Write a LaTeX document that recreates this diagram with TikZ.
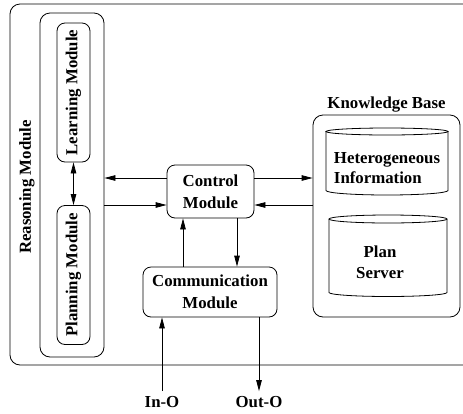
\documentclass[tikz,border=0pt]{standalone}
\usepackage{fontspec}
\setmainfont{Liberation Serif}
\usepackage{tikz}
\usetikzlibrary{positioning, arrows.meta, calc}
\tikzset{
  module/.style={draw, line width=0.8pt, rounded corners=8pt, align=center, font=\fontsize{16.8}{22}\selectfont\bfseries, inner sep=2pt},
  sidemodule/.style={module, rotate=90, minimum width=139, minimum height=33},
  frame/.style={draw, line width=0.8pt, rounded corners=10pt},
  store/.style={align=left, font=\fontsize{16.8}{20.5}\selectfont\bfseries, inner sep=0pt},
  caption/.style={font=\fontsize{16.8}{20}\selectfont\bfseries, inner sep=1pt},
  link/.style={-{Triangle[length=11pt, width=5.5pt]}, line width=0.8pt},
  twolink/.style={{Triangle[length=11pt, width=5.5pt]}-{Triangle[length=11pt, width=5.5pt]}, line width=0.8pt},
}

\begin{document}
\begin{tikzpicture}[x=1pt, y=-1pt]
  \useasboundingbox (0,0) rectangle (463,413);

  % Outer frame, running off the right edge
  \begin{scope}
    \clip (0,0) rectangle (463,413);
    \draw[frame] (10,4) rectangle (480,365);
  \end{scope}

  % Reasoning module with its two sub-modules
  \node[caption, rotate=90] (reasonname) at (27,187) {Reasoning Module};
  \node[frame, minimum width=64, minimum height=344, inner sep=0pt] (reason) at (72,185) {};
  \node[sidemodule] (learn) at (73.5,92.5) {Learning Module};
  \node[sidemodule] (plan) at (73.5,275) {Planning Module};
  \draw[twolink] (learn.west) -- (plan.east);

  % Control and communication
  \node[module, minimum width=87, minimum height=53] (ctrl) at (210.5,191.5) {Control\\Module};
  \node[module, minimum width=134, minimum height=50] (comm) at (210,292) {Communication\\Module};

  % Knowledge base with two stores
  \node[frame, minimum width=147, minimum height=202, inner sep=0pt] (kb) at (386.5,216) {};
  \node[caption, above=1pt of kb] (kbname) {Knowledge Base};

  \node[store] (hetero) at (387,168) {Heterogeneous\\Information};
  \draw[line width=0.8pt] ($(hetero)+(0pt,36.5pt)$) ellipse [x radius=61pt, y radius=3.5pt];
  \draw[line width=0.8pt] ($(hetero)+(-61pt,36.5pt)$) -- ($(hetero)+(-61pt,-22.5pt)$)
    arc [start angle=180, end angle=360, x radius=61pt, y radius=4.5pt]
    -- ($(hetero)+(61pt,36.5pt)$);

  \node[store, align=center] (server) at (380,262) {Plan\\Server};
  \draw[line width=0.8pt] ($(server)+(8pt,43pt)$) ellipse [x radius=59pt, y radius=4pt];
  \draw[line width=0.8pt] ($(server)+(-51pt,43pt)$) -- ($(server)+(-51pt,-30.5pt)$)
    arc [start angle=180, end angle=360, x radius=59pt, y radius=4pt]
    -- ($(server)+(67pt,43pt)$);

  % Horizontal links
  \coordinate (cw1) at ([yshift=13.5pt]ctrl.west);
  \coordinate (cw2) at ([yshift=-13.5pt]ctrl.west);
  \coordinate (ce1) at ([yshift=13.5pt]ctrl.east);
  \coordinate (ce2) at ([yshift=-13.5pt]ctrl.east);
  \draw[link] (cw1) -- (cw1 -| reason.east);
  \draw[link] (cw2 -| reason.east) -- (cw2);
  \draw[link] (ce1) -- (ce1 -| kb.west);
  \draw[link] (ce2 -| kb.west) -- (ce2);

  % Vertical links
  \draw[link] ([xshift=-27pt]comm.north) -- ([xshift=-27pt]comm.north |- ctrl.south);
  \draw[link] ([xshift=27pt]comm.north |- ctrl.south) -- ([xshift=27pt]comm.north);

  % Outside world
  \node[caption] (ino) at (162,402) {In-O};
  \node[caption] (outo) at (259,402) {Out-O};
  \draw[link] ([yshift=4pt]ino.north) -- (ino.north |- comm.south);
  \draw[link] (outo.north |- comm.south) -- ([yshift=4pt]outo.north);
\end{tikzpicture}
\end{document}
